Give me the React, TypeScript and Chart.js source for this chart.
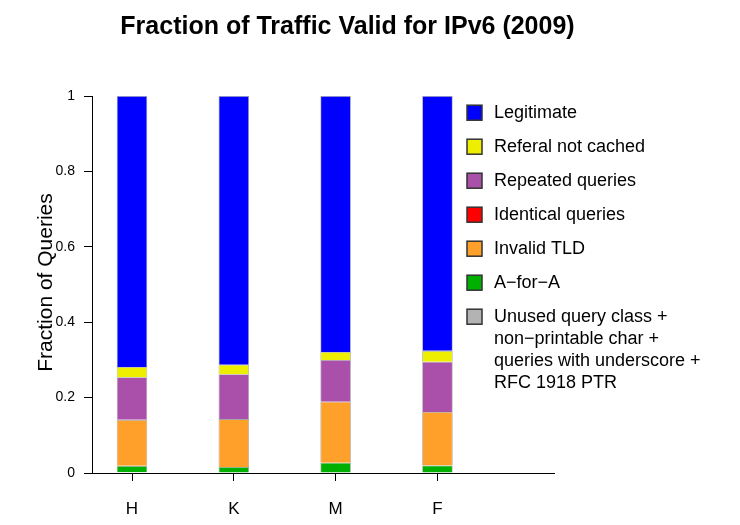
import React, { useEffect, useRef } from "react";
import { Chart, registerables } from "chart.js";

Chart.register(...registerables);

const categories = ["H", "K", "M", "F"];
const categoryPositions = [1, 2, 3, 4];

// stacking order bottom -> top
const unusedClass = [0.002, 0.001, 0.001, 0.001];
const aForA = [0.017, 0.015, 0.026, 0.019];
const invalidTLD = [0.122, 0.127, 0.162, 0.142];
const identicalQueries = [0, 0, 0, 0];
const repeatedQueries = [0.113, 0.119, 0.111, 0.133];
const referalNotCached = [0.027, 0.025, 0.021, 0.029];
const legitimate = [0.719, 0.713, 0.679, 0.676];

const yTicks = [0, 0.2, 0.4, 0.6, 0.8, 1];

const seriesNames = [
  "Unused query class +\nnon\u2212printable char +\nqueries with underscore +\nRFC 1918 PTR",
  "A\u2212for\u2212A",
  "Invalid TLD",
  "Identical queries",
  "Repeated queries",
  "Referal not cached",
  "Legitimate",
];
const seriesValues = [unusedClass, aForA, invalidTLD, identicalQueries, repeatedQueries, referalNotCached, legitimate];
const seriesColors = ["#B3B3B3", "#00B000", "#FFA02A", "#FF0000", "#AA4FAA", "#EEEE00", "#0000FF"];

const TITLE = "Fraction of Traffic Valid for IPv6 (2009)";
const Y_TITLE = "Fraction of Queries";
const FONT = "'Liberation Sans', Arial, Helvetica, sans-serif";

const overlayPlugin = {
  id: "overlay",
  afterDraw(chart: any) {
    const ctx = chart.ctx as CanvasRenderingContext2D;
    const area = chart.chartArea;
    ctx.save();
    // title
    ctx.fillStyle = "#000";
    ctx.font = `bold 25px ${FONT}`;
    ctx.textAlign = "center";
    ctx.textBaseline = "middle";
    ctx.fillText(TITLE, 347.5, 27);
    // y title
    ctx.save();
    ctx.translate(52, (area.top + area.bottom) / 2 - 2);
    ctx.rotate(-Math.PI / 2);
    ctx.font = `21px ${FONT}`;
    ctx.textAlign = "center";
    ctx.textBaseline = "alphabetic";
    ctx.fillText(Y_TITLE, 0, 0);
    ctx.restore();
    // legend (top-to-bottom is reverse of stacking)
    const startX = area.right - 87;
    const startY = area.top + 16.7;
    const rowGap = 34;
    const lineGap = 22.2;
    const n = seriesNames.length;
    ctx.font = `18px ${FONT}`;
    ctx.textAlign = "left";
    ctx.textBaseline = "middle";
    for (let k = 0; k < n; k++) {
      const i = n - 1 - k;
      const cy = startY + k * rowGap;
      ctx.fillStyle = seriesColors[i];
      ctx.fillRect(startX, cy - 7.5, 15, 15);
      ctx.strokeStyle = "#333";
      ctx.lineWidth = 1.5;
      ctx.strokeRect(startX, cy - 7.5, 15, 15);
      ctx.fillStyle = "#000";
      const lines = seriesNames[i].split("\n");
      lines.forEach((ln, j) => ctx.fillText(ln, startX + 27, cy + j * lineGap));
    }
    ctx.restore();
  },
};

export default function App() {
  const ref = useRef<HTMLCanvasElement>(null);
  useEffect(() => {
    document.body.style.margin = "0";
    const canvas = ref.current!;
    const datasets = seriesNames.map((name, i) => ({
      label: name,
      data: categoryPositions.map((x, j) => ({ x, y: seriesValues[i][j] })),
      backgroundColor: seriesColors[i],
      borderColor: "rgba(0,0,0,0.35)",
      borderWidth: 0.8,
      barPercentage: 0.3,
      categoryPercentage: 1,
    }));
    const chart = new Chart(canvas, {
      type: "bar",
      data: { datasets },
      options: {
        animation: false,
        responsive: false,
        devicePixelRatio: 1,
        layout: { padding: { left: 0, top: 96, right: 186, bottom: 0 } },
        plugins: { legend: { display: false }, title: { display: false }, tooltip: { enabled: false } },
        scales: {
          x: {
            type: "linear",
            stacked: true,
            offset: false,
            bounds: "ticks",
            min: 0.607,
            max: 5.145,
            afterBuildTicks: (s: any) => {
              s.ticks = categoryPositions.map((v) => ({ value: v }));
            },
            afterFit: (s: any) => {
              s.height = 52;
            },
            ticks: {
              callback: (v: any) => categories[categoryPositions.indexOf(Number(v))] ?? "",
              font: { family: FONT, size: 17 },
              color: "#000",
              padding: 18,
              maxRotation: 0,
              autoSkip: false,
            },
            grid: { display: true, offset: false, drawOnChartArea: false, drawTicks: true, tickLength: 8, color: "#000", lineWidth: 1 },
            border: { display: true, color: "#000", width: 1 },
          },
          y: {
            stacked: true,
            min: 0,
            max: 1,
            afterBuildTicks: (s: any) => {
              s.ticks = yTicks.map((v) => ({ value: v }));
            },
            afterFit: (s: any) => {
              s.width = 92;
            },
            ticks: {
              font: { family: FONT, size: 14 },
              color: "#000",
              padding: 9,
              callback: (v: any) => String(Number(v)),
            },
            grid: { display: true, drawOnChartArea: false, drawTicks: true, tickLength: 8, color: "#000", lineWidth: 1 },
            border: { display: true, color: "#000", width: 1 },
          },
        },
      },
      plugins: [overlayPlugin],
    } as any);
    return () => chart.destroy();
  }, []);
  return <canvas ref={ref} width={740} height={525} style={{ display: "block" }} />;
}
